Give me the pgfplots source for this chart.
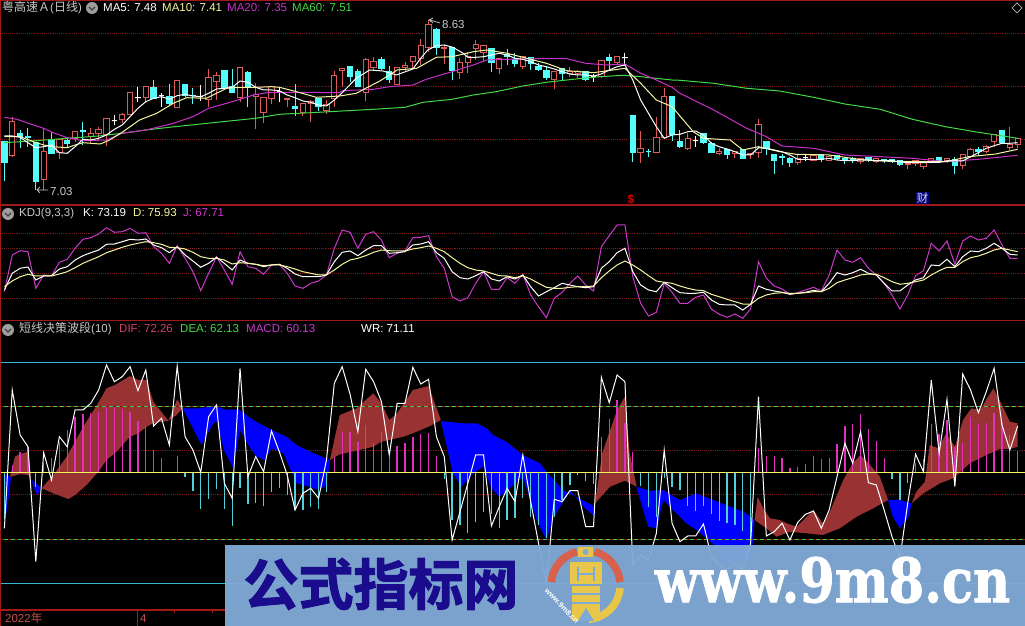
\documentclass[border=0pt]{standalone}
\usepackage{fontspec}
\usepackage{pgfplots}
\usepackage{pgfplotstable}
\pgfplotsset{compat=1.18}
\usepgfplotslibrary{statistics}
\setmainfont{Liberation Sans}
\newfontfamily\cjk{Noto Sans CJK SC}
\newfontfamily\wmcjk[FakeBold=2]{Noto Sans CJK SC Bold}
\newfontfamily\wmlat[FakeBold=1.5]{DejaVu Serif Bold}

\definecolor{frame}{HTML}{A01818}
\definecolor{griddot}{HTML}{7A1C1C}
\definecolor{upred}{HTML}{DC5A5A}
\definecolor{downcy}{HTML}{54FCFC}
\definecolor{ma10}{HTML}{F6F6A0}
\definecolor{ma20}{HTML}{C832C8}
\definecolor{ma60}{HTML}{44D844}
\definecolor{jline}{HTML}{CC38CC}
\definecolor{txtgray}{HTML}{C8C8C8}
\definecolor{band}{HTML}{993333}
\definecolor{histm}{HTML}{E030C0}
\definecolor{histc}{HTML}{50D0D8}
\definecolor{lvlcy}{HTML}{38B4D4}
\definecolor{lvlgr}{HTML}{44CC44}
\definecolor{lvlye}{HTML}{F4F460}
\definecolor{wmblue}{HTML}{7FA9D6}
\definecolor{wmtext}{HTML}{1A0C8C}
\definecolor{logored}{HTML}{D9604A}
\definecolor{logoyel}{HTML}{E8C64A}
\definecolor{diftxt}{HTML}{D04070}
\definecolor{datetxt}{HTML}{C85050}

% one candle: colour, fill, bar, high, top of body, bottom of body, low (pixel rows)
\newcommand{\candle}[7]{\addplot[#1, line width=1bp, forget plot, boxplot prepared={draw direction=y, draw position=#3, upper whisker=#4, upper quartile=#5, median=#5, lower quartile=#6, lower whisker=#7, box extend=0.68, whisker extend=0, every box/.style={fill=#2}}] coordinates {};}
\newcommand{\cU}[5]{\candle{upred}{black}{#1}{#2}{#3}{#4}{#5}}
\newcommand{\cD}[5]{\candle{downcy}{downcy}{#1}{#2}{#3}{#4}{#5}}
\newcommand{\cW}[5]{\candle{white}{white}{#1}{#2}{#3}{#4}{#5}}
\newcommand{\icon}[2]{\fill[gray!75] (#1,#2) circle (6); \draw[black!75, line width=1.2bp] (#1-3,#2-1) -- (#1,#2+2) -- (#1+3,#2-1);}

\pgfplotsset{panel/.style={scale only axis, width=1025bp, hide axis, clip=true, xmin=-0.56, xmax=129.93, anchor=south west}}

% KDJ, pixel rows of the middle panel
\pgfplotstableread{
i K D J
0 290 286.7 291.7
1 273.3 281 255
2 268.3 276.7 250.7
3 267 274.3 251.7
4 280 276 288.3
5 276 276 275
6 275.7 276 275.7
7 269 274 262.3
8 266.7 271.7 259.3
9 260 267.7 248.3
10 255.7 263.3 239.3
11 252.7 260 237.7
12 250 256.7 234
13 244.3 252.7 227.7
14 244 250 232.3
15 241.7 247.3 231.7
16 239.3 245 228.3
17 240 243.3 233.3
18 239 241.7 232.7
19 245 242.7 246.7
20 247.7 244.3 253.3
21 252.7 247.3 263.3
22 246.7 247.7 245.7
23 255 249 258.3
24 261 252.3 271.7
25 267.3 256.7 290.7
26 263.3 258.3 273.3
27 257.3 258.3 256.7
28 263.3 260 270
29 270 264 284.3
30 260 262.7 251.7
31 263.3 263.3 266.7
32 264.3 264.3 268.3
33 266.7 265.7 274.3
34 265 265 265
35 264.3 265 264.3
36 268.3 266.7 273.3
37 274 269 286
38 276.7 271.7 288.3
39 276.7 273.3 283.3
40 276.7 275 281
41 275 275 275
42 261.7 270 248.3
43 252.3 264.3 230
44 251 260 232.3
45 255.7 258.3 248.3
46 250 255.7 234.3
47 245.7 252.3 231.7
48 245.7 250 240
49 253.3 250.7 257.7
50 252.7 251 253.3
51 251.7 251 250.7
52 245 249 237.7
53 244 247.7 237.3
54 241.7 246 235.7
55 252.7 248.3 256.7
56 258.3 251.7 268.3
57 271.7 257.7 296.7
58 277.7 263.3 301
59 279 267.7 297.7
60 275.7 270 283.3
61 271.7 271 271.7
62 279 273.3 289.3
63 281 275.7 289.3
64 276.7 276 277.7
65 279 277.7 283.3
66 275 276 274.3
67 286.7 279 295
68 296 283.3 306.7
69 291.7 287.3 317.7
70 287.7 288.3 298.3
71 283.3 288.3 292.3
72 285 287.3 283.3
73 286.7 286.7 276
74 287.7 286.7 285
75 286.7 286 291
76 268.3 277.7 246.7
77 261.7 271 235.7
78 252.7 265 225
79 248.3 261 225
80 271.7 265 276.7
81 285 270 303.3
82 290 275.7 316
83 291.7 281 312.3
84 282.3 282.3 283.3
85 287.7 283.3 292.3
86 292.7 286 303.3
87 293.3 288.3 303.3
88 293.3 290 297.3
89 292.3 290.7 295
90 300 294.3 309
91 304.3 296.7 314.3
92 305 299.3 317.3
93 305 301.7 314
94 310 304 318.3
95 304.3 304.3 309
96 286 298.3 261.7
97 289.3 295 278.3
98 291 293.3 286
99 292.3 292.7 289
100 294.3 293.3 294.3
101 293.3 293.3 292.7
102 292.3 292.7 290
103 290.3 291.7 287.3
104 291.7 291.7 291
105 283.3 288.3 275
106 272.7 282.7 250
107 275 280 260
108 272.7 277.7 262.3
109 269.3 275 257.7
110 273.3 274 268.3
111 275 274.3 275
112 283.3 277.7 283.3
113 291 281.7 295
114 291 284.3 309
115 285 283.3 295
116 280 281.7 275.7
117 277.7 280 270.7
118 265 275 243.3
119 265.7 270.7 251
120 259.3 267.3 241
121 266.7 267.3 264.3
122 256.7 261.7 241
123 251 257.7 236
124 251.7 256 240
125 248.3 253.3 238.3
126 243.3 250 230
127 248.3 248.3 245
128 254.3 250 258.3
129 255 251.7 258.3
}\kdj

% bottom panel, pixels above the midline: WR
\pgfplotstableread{
i wr
0 -56
1 82.3
2 37.3
3 25.6
4 -89.4
5 19.6
6 -7.7
7 35.6
8 25.6
9 62.3
10 62.3
11 69
12 82.3
13 107.3
14 90.6
15 95.6
16 105.6
17 81.6
18 102.3
19 46.3
20 54
21 27.3
22 106.3
23 35.6
24 22.3
25 0
26 55.6
27 67.3
28 -11
29 -26
30 104
31 -4.4
32 15.6
33 0.6
34 41.3
35 20.6
36 -2.7
37 -37.7
38 -21
39 -16
40 -26
41 12.3
42 89
43 105.6
44 78.3
45 40.6
46 103
47 90.6
48 70.6
49 17.3
50 69
51 69
52 105
53 88.3
54 93
55 35.6
56 15.6
57 -67.7
58 -39.4
59 -11
60 17.3
61 17.3
62 -53.7
63 -34.4
64 -16
65 -29.4
66 17.3
67 -29.4
68 -71
69 -111
70 -27
71 -29.4
72 -18.4
73 -18.4
74 -54.4
75 -54.4
76 95
77 69.6
78 97.3
79 90.6
80 -92.7
81 -82.7
82 -87.7
83 -61
84 22.3
85 -51
86 -69.4
87 -63.7
88 -63.7
89 -51.7
90 -84.4
91 -92.7
92 -97.7
93 -91
94 -97.7
95 -71
96 75.6
97 -63.7
98 -59.4
99 -51
100 -67.7
101 -50
102 -42
103 -38.7
104 -56
105 -37.7
106 -4.4
107 29
108 8.9
109 40.6
110 -10.4
111 -12.7
112 -37.7
113 -64.4
114 -86
115 -31
116 18
117 0.6
118 92.3
119 19
120 73
121 -14.4
122 98.3
123 82.3
124 59.6
125 80.6
126 104
127 47.3
128 22.3
129 46.3
}\wrtab

\begin{document}
\begin{tikzpicture}
\path[use as bounding box] (0,0) rectangle (1025bp,626bp);
\fill[black] (0,0) rectangle (1025bp,626bp);

% price panel (y is the pixel row)
\begin{axis}[panel, at={(0bp,421bp)}, height=205bp, ymin=0, ymax=205, y dir=reverse]
\foreach \r in {33.3,86.3,139.7} {\edef\tmp{\noexpand\addplot[griddot, line width=0.9bp, densely dotted, forget plot] coordinates {(-1,\r)(130,\r)};}\tmp}
\cD{0}{142}{142}{163}{181}\cU{1}{117}{122}{156}{157}\cD{2}{130}{134}{137}{148}\cD{3}{128}{137}{138}{147}
\cD{4}{143}{143}{182}{190}\cU{5}{128}{152}{180}{190}\cD{6}{132}{140}{154}{154}\cU{7}{139}{140}{153}{159}
\cD{8}{137}{141}{144}{148}\cU{9}{132}{132}{139}{142}\cD{10}{122}{131}{132}{145}\cU{11}{128}{134}{137}{143}
\cU{12}{127}{130}{134}{140}\cU{13}{119}{119}{135}{146}\cW{14}{115}{121}{121}{125}\cU{15}{113}{115}{120}{123}
\cU{16}{93}{93}{115}{115}\cW{17}{87}{98}{98}{102}\cU{18}{86}{87}{98}{102}\cD{19}{80}{88}{99}{99}
\cW{20}{93}{96}{96}{107}\cD{21}{84}{97}{104}{105}\cU{22}{81}{81}{108}{108}\cD{23}{85}{85}{96}{97}
\cD{24}{88}{96}{96}{104}\cW{25}{85}{97}{97}{101}\cU{26}{69}{78}{100}{107}\cU{27}{72}{76}{82}{100}
\cD{28}{70}{71}{88}{88}\cD{29}{69}{87}{93}{93}\cU{30}{68}{68}{98}{102}\cD{31}{71}{73}{88}{107}
\cU{32}{83}{95}{97}{129}\cU{33}{98}{98}{113}{123}\cU{34}{87}{87}{99}{104}\cW{35}{88}{92}{92}{102}
\cU{36}{98}{99}{100}{107}\cD{37}{84}{107}{109}{116}\cU{38}{103}{104}{113}{116}\cU{39}{100}{102}{104}{122}
\cD{40}{98}{99}{107}{111}\cU{41}{100}{105}{111}{114}\cU{42}{71}{76}{99}{107}\cU{43}{69}{69}{71}{87}
\cD{44}{66}{67}{77}{82}\cD{45}{69}{72}{87}{87}\cU{46}{58}{60}{93}{101}\cU{47}{57}{62}{68}{70}
\cD{48}{57}{60}{69}{70}\cD{49}{66}{72}{80}{83}\cU{50}{67}{68}{85}{85}\cU{51}{62}{66}{68}{71}
\cU{52}{57}{57}{62}{68}\cU{53}{39}{46}{59}{65}\cU{54}{20}{25}{48}{52}\cD{55}{28}{30}{48}{55}
\cU{56}{45}{48}{49}{64}\cD{57}{48}{48}{71}{80}\cU{58}{58}{63}{73}{79}\cU{59}{52}{57}{63}{73}
\cU{60}{40}{45}{49}{60}\cU{61}{45}{46}{53}{62}\cD{62}{49}{49}{63}{72}\cU{63}{59}{59}{69}{74}
\cD{64}{49}{55}{57}{65}\cD{65}{53}{60}{64}{67}\cU{66}{56}{57}{67}{69}\cD{67}{57}{58}{64}{70}
\cD{68}{63}{67}{70}{71}\cD{69}{67}{71}{78}{80}\cU{70}{71}{72}{80}{89}\cD{71}{68}{69}{74}{80}
\cU{72}{67}{72}{74}{77}\cU{73}{70}{72}{74}{78}\cD{74}{71}{72}{80}{81}\cW{75}{74}{77}{77}{82}
\cU{76}{61}{61}{77}{78}\cD{77}{54}{58}{61}{69}\cU{78}{57}{57}{63}{64}\cW{79}{53}{58}{58}{65}
\cD{80}{116}{116}{153}{162}\cU{81}{131}{149}{153}{163}\cD{82}{149}{152}{152}{157}\cU{83}{117}{138}{153}{153}
\cU{84}{88}{97}{138}{138}\cD{85}{97}{97}{135}{141}\cD{86}{130}{142}{147}{148}\cU{87}{133}{139}{149}{150}
\cW{88}{136}{141}{141}{147}\cD{89}{134}{134}{143}{144}\cD{90}{142}{144}{153}{153}\cU{91}{148}{152}{154}{155}
\cD{92}{149}{150}{155}{159}\cU{93}{152}{152}{154}{158}\cD{94}{150}{150}{159}{159}\cU{95}{153}{154}{155}{159}
\cU{96}{119}{125}{153}{158}\cD{97}{141}{142}{149}{155}\cD{98}{154}{155}{161}{174}\cD{99}{154}{157}{158}{165}
\cD{100}{157}{159}{163}{167}\cU{101}{155}{159}{163}{165}\cW{102}{155}{158}{158}{161}\cU{103}{155}{156}{161}{161}
\cD{104}{154}{155}{160}{162}\cU{105}{155}{157}{161}{161}\cD{106}{155}{156}{159}{160}\cD{107}{157}{159}{160}{164}
\cD{108}{157}{159}{160}{163}\cU{109}{158}{159}{162}{164}\cD{110}{157}{158}{160}{162}\cU{111}{159}{159}{162}{163}
\cD{112}{159}{160}{161}{163}\cD{113}{159}{160}{162}{163}\cD{114}{160}{161}{165}{166}\cU{115}{163}{164}{165}{169}
\cU{116}{160}{161}{164}{166}\cU{117}{162}{163}{167}{169}\cU{118}{158}{159}{163}{163}\cD{119}{158}{158}{162}{163}
\cU{120}{159}{159}{161}{163}\cD{121}{157}{160}{166}{174}\cU{122}{155}{155}{166}{169}\cU{123}{148}{150}{157}{158}
\cD{124}{147}{150}{152}{155}\cU{125}{145}{147}{152}{153}\cU{126}{135}{135}{142}{147}\cD{127}{131}{131}{143}{144}
\cU{128}{127}{145}{148}{150}\cU{129}{138}{139}{145}{148}
% MA60
\addplot[ma60, line width=1bp] coordinates {(0,142.7)(4,140.7)(8,138.3)(12,136)(15,133.3)(18,130)(21,127.3)(25,124)(29,120.7)(32,118.3)(35,114.3)(40,112.3)(43,111)(47,109.3)(51,107.3)(53.3,102.3)(57,99.3)(59.7,95)(62.6,91.7)(66,86)(69,82.3)(72.4,79.3)(75.8,76.7)(78.8,75.3)(81,76.7)(85,80)(86,80.3)(90.3,83.3)(94.5,88.3)(98.7,91)(103,97.3)(107,104)(111.5,109.3)(115.6,119.3)(119.8,126.7)(124,132.3)(129,138.3)};
% MA20
\addplot[ma20, line width=1bp] coordinates {(0,117.3)(1.6,119.3)(3.7,125)(5,128.3)(6.2,132.7)(8,137.7)(10,140.7)(13,140)(15,133.3)(18,130)(19.8,126.7)(21.5,123.3)(24,116.7)(26,108.3)(28.3,103.3)(30,99.3)(31.7,95)(33.4,92.7)(37.6,92.3)(42.7,92.7)(43,90.7)(47,89.3)(49,86.7)(52,85)(53.7,79.3)(57,71.7)(59.7,65)(61.4,60)(64,59.3)(68,58.7)(71.6,58.7)(74,63.3)(76.6,65)(79,64)(81,73.3)(83,80)(85,87.3)(86,93.3)(90.3,110)(94.5,128.3)(97,136.7)(99,146)(103,148.3)(107,155)(111.5,156.7)(115.6,158.3)(119.8,161.7)(124,159.3)(129,155.3)};
% MA10
\addplot[ma10, line width=1bp] coordinates {(0,136.7)(2,136.7)(3.7,141.7)(5,145)(6.2,146.7)(8,147.7)(9,145)(10,142.7)(12.2,144)(13.4,140)(15.1,131.7)(17.2,120)(19.4,113.3)(21.5,103.3)(23.2,97.7)(25.7,98.3)(28.3,88.3)(30,87.3)(32,87.3)(34,86.7)(35,87.3)(37.2,91.7)(39.7,97.3)(42.7,96)(44.8,93.3)(46,88.3)(47.8,81)(50,70)(52.5,68.3)(55,57.3)(57,56.7)(59.7,51.7)(61.4,50)(64,53.3)(66.5,58.3)(69,63.3)(71.6,70.7)(75,72.7)(79,68.3)(81,83.3)(83,100)(85,106.7)(86,116)(87.7,131.7)(89,138.3)(92.4,140)(94,150)(96,146.7)(98.7,151.7)(100.8,154.3)(105,155)(109.3,160)(113.5,161.7)(115.6,161.7)(119.8,161.7)(122.8,156.7)(126.2,154)(129,149.3)};
% MA5
\addplot[white, line width=1bp] coordinates {(0,136)(1,136)(2,137.3)(3,142.7)(4,147.7)(5,146.7)(6,145)(7,152.7)(8,153.3)(9,146.7)(10,139.3)(11,140)(12,138.3)(13,135)(14,129.3)(15,125)(16,116.7)(17,108.3)(18,101.7)(19,98.3)(20,96.7)(21,99.3)(22,95.7)(23,94.3)(24,96)(25,96.7)(26,93.3)(27,89)(28,88.3)(29,87.3)(30,81)(31,82.3)(32,87.3)(33,90)(34,90)(35,90.7)(36,95)(37,97.7)(38,101)(39,102.3)(40,105)(41,106)(42,100)(42.8,94.3)(44.8,78.3)(46.5,70)(48.2,71)(49.9,75)(52,69)(53,58.3)(53.9,50)(55,45.7)(56,45)(57.1,47.3)(58.4,53.3)(59,57.3)(60,57.3)(61,56.7)(62,55)(63,53.3)(64,55)(65,58.3)(66,59.3)(67,61.7)(68,65)(69,66.7)(70,69)(71,71.7)(72,74)(73,75)(74,75)(75,76)(76,74)(77,70)(78,66.7)(79,65)(80,80)(81,100)(83,126.7)(84,138.3)(85,135)(86,134.3)(87,131.7)(88,131)(89,135)(90,143.3)(91,146.7)(92,149)(93,151.7)(94,155)(95,155)(96,147.7)(97,148.3)(98,150)(99,151.7)(100,155)(101,159.3)(102,159.3)(103,159.3)(104,159.3)(105,158.3)(106,160)(107,160.7)(108,160.7)(109,160)(110,160)(111,160.7)(112,160.7)(113,160.7)(114,161.7)(115,162.7)(116,162.3)(117,162.7)(118,162.3)(119,162.3)(120,161)(121,160.7)(122,161)(123,156.7)(124,152.7)(125,148.3)(126,145.7)(127,143.3)(128,143.3)(129,142.7)};
\end{axis}

% KDJ panel
\begin{axis}[panel, at={(0bp,306bp)}, height=115bp, ymin=205, ymax=320, y dir=reverse]
\foreach \r in {233,248,273,298} {\edef\tmp{\noexpand\addplot[griddot, line width=0.9bp, densely dotted, forget plot] coordinates {(-1,\r)(130,\r)};}\tmp}
\addplot[jline, line width=1bp] table[x=i, y=J] {\kdj};
\addplot[white, line width=1bp] table[x=i, y=K] {\kdj};
\addplot[ma10, line width=1bp] table[x=i, y=D] {\kdj};
\end{axis}

% decision-band panel (y is pixels above the midline, row 472.3)
\begin{axis}[panel, at={(0bp,16bp)}, height=290bp, ymin=-137.7, ymax=152.3]
\foreach \r in {22,-21.7} {\edef\tmp{\noexpand\addplot[griddot, line width=0.9bp, densely dotted, forget plot] coordinates {(-1,\r)(130,\r)};}\tmp}
\addplot[fill=blue, draw=none] coordinates {(0,-1.7)(0.84,-5)(0.63,-21)(0.12,-46)} -- cycle;
\addplot[fill=band, draw=none] coordinates {(0.71,-4.4)(1.35,15.6)(1.99,18.3)(3.05,20.6)(3.34,-7.7)(3.05,-2.7)(1.99,-1.7)(0.84,-4.4)} -- cycle;
\addplot[fill=blue, draw=none] coordinates {(3.47,-7.7)(4.62,-15)(4.19,-23.4)(3.68,-14.4)} -- cycle;
\addplot[fill=band, draw=none] coordinates {(4.74,-16)(6.23,-2.7)(7.93,15.6)(10.05,45.6)(12.17,72.3)(13,84)(14.08,87.3)(15.14,92.3)(15.98,96.3)(17.05,92.3)(18.1,92.3)(18.96,70.6)(20.87,51.6)(22,73)(22.69,64)(21.93,57.3)(20.87,51.6)(18.96,49)(18.1,45.6)(17.05,39)(15.98,35.6)(14.29,20.6)(13,12.3)(11.96,0.6)(10.47,-12.7)(8.99,-22.7)(8.14,-26.7)(6.23,-21)} -- cycle;
\addplot[fill=blue, draw=none] coordinates {(22.69,64)(24.9,64)(26.8,66.6)(28.29,62.3)(29.78,63)(31.68,52.3)(34,42.3)(35.93,35.6)(37.2,27.3)(38.9,20.6)(41.44,12.3)(41.23,-1)(40.8,-14.4)(39.75,-17)(38.05,-12.7)(37.2,-11)(35.5,19)(34,24)(33.16,12.3)(32.1,15.6)(31.05,27.3)(29.99,42.3)(29.14,4)(27.95,22.3)(27,50.6)(26.6,49)(25.1,27.3)} -- cycle;
\addplot[fill=band, draw=none] coordinates {(41.44,12.3)(42.7,57.3)(44.84,64)(46.96,79)(48,69)(49,52.3)(50,59)(52,82.3)(54,86.3)(55.57,52.3)(54.2,46.3)(52,39)(50.8,35.6)(48,30.6)(46.96,25.6)(44.84,21.6)(42.7,18)} -- cycle;
\addplot[fill=blue, draw=none] coordinates {(55.57,51.3)(58.4,49)(60.1,49)(61.4,44)(62.2,37.3)(63.9,30.6)(66,17.3)(68.2,9)(69,0.6)(71.1,-17.7)(75.2,-34.4)(75.2,-44.4)(73.9,-36)(72,-17.7)(69.9,-46)(69,-67.7)(67.75,-47.7)(66,-4.4)(64.3,-16)(63,-24.4)(62,-16)(60.96,5.6)(59.7,-1)(58.2,-14.4)(57.1,-1)} -- cycle;
\addplot[fill=band, draw=none] coordinates {(75.2,-31)(76.1,19)(78,62.3)(79,75.6)(79.6,19)(80.5,-14.4)(79,-8.4)(77.1,-14.4)} -- cycle;
\addplot[fill=blue, draw=none] coordinates {(80.5,-14.4)(82.2,-18.4)(83.9,-17.7)(86,-27.7)(88.1,-21)(90.2,-27.7)(92.4,-34.4)(94.1,-39.4)(95.5,-47.7)(95.1,-87.7)(92,-91)(90.2,-71.7)(88.1,-57.7)(86.8,-51)(86,-44.4)(85.1,-37.7)(83.9,-27.7)(83,-56)(81.96,-54.4)(80.5,-16)} -- cycle;
\addplot[fill=band, draw=none] coordinates {(95.5,-47.7)(95.9,-24.4)(96.6,-36)(97.45,-46)(98.7,-47.7)(99.6,-51)(100.85,-54.4)(103,-37.7)(104.2,-51)(105,-41)(105.9,-24.4)(106.8,-7.7)(108,9)(109,17.3)(110.2,7.3)(111.45,-4.4)(112.5,-27.7)(110.6,-36)(108.5,-44.4)(106.35,-56)(104.2,-62.7)(102.1,-61)(100,-59.4)(98.3,-64.4)(97,-56)} -- cycle;
\addplot[fill=blue, draw=none] coordinates {(112.5,-27.7)(114,-27.7)(115.5,-31)(115.1,-44.4)(114,-56)(113.1,-44.4)} -- cycle;
\addplot[fill=band, draw=none] coordinates {(115.5,-31)(116.1,-19.4)(117.2,-9.4)(117.8,27.3)(118.9,24)(119.9,39)(121,25.6)(122.05,52.3)(123.1,64)(124.2,62.3)(125.9,84)(126.9,69)(128,50.6)(129,49)(129,25.6)(128,23.3)(126.7,23.3)(125,17.3)(122.9,9)(120.8,-6)(119.1,-11)(117,-21)} -- cycle;
% histogram, positive and negative bars
\addplot[ycomb, histm, line width=1.3bp, no markers] coordinates {(1,7.3)(2,20)(3,25.6)(5,9)(6,14)(7,30.6)(8,42.3)(9,55.6)(10,58.3)(11,59)(12,60.6)(13,65)(14,65)(15,63)(16,60.6)(17,51.3)(18,46.3)(19,22.3)(20,14)(22,16.3)(42,15.6)(43,40.6)(44,40.6)(45,30.6)(46,47.3)(47,29)(48,40.6)(49,15.6)(50,26.3)(51,29)(52,35.6)(53,38.3)(54,39.6)(55,16.3)(76,35.6)(77,53.3)(78,72.3)(79,49)(80,20.6)(96,24)(97,16.6)(98,16.6)(99,14)(100,4.6)(101,5.6)(102,8.3)(103,16.6)(104,13)(105,14.6)(106,28.3)(107,46.3)(108,48.3)(109,58.3)(110,43.3)(111,31.6)(112,14.6)(116,9.6)(117,13)(118,48.3)(119,38.3)(120,52.3)(121,25.6)(122,29)(123,55.6)(124,48.3)(125,49)(126,59.6)(127,49)(128,37.3)(129,21.6)};
\addplot[ycomb, histc, line width=1.3bp, no markers] coordinates {(0,-47)(4,-14.4)(21,-1)(23,-4.4)(24,-18.7)(25,-36.7)(26,-26.7)(27,-17)(28,-36.7)(29,-53.7)(30,-16)(31,-31.7)(32,-30.4)(33,-33.7)(34,-19.4)(35,-16)(36,-22.7)(37,-37.7)(38,-37.7)(39,-34.4)(40,-36.7)(41,-19.4)(56,-7)(57,-47.7)(58,-52.7)(59,-61)(60,-50)(61,-39.4)(62,-41.7)(63,-56)(64,-47.7)(65,-46)(66,-26)(67,-44.4)(68,-52.7)(69,-66)(70,-44.4)(71,-27.7)(72,-12.7)(73,-2.7)(74,-8.7)(75,-11.7)(81,-13.4)(82,-34.4)(83,-44.4)(84,-6)(85,-14.4)(86,-17.7)(87,-33.7)(88,-38.7)(89,-33.7)(90,-41.7)(91,-48.7)(92,-51)(93,-52.7)(94,-58.4)(95,-67.7)(113,-7)(114,-27.7)(115,-11)};
\addplot[lvlcy, line width=1bp] coordinates {(-1,109.6)(130,109.6)};
\addplot[lvlcy, line width=1bp] coordinates {(-1,-111)(130,-111)};
\addplot[griddot, line width=1bp] coordinates {(-1,66)(130,66)};
\addplot[griddot, line width=1bp] coordinates {(-1,-67)(130,-67)};
\addplot[lvlgr, line width=1bp, dash pattern=on 4bp off 3bp] coordinates {(-1,66)(130,66)};
\addplot[lvlgr, line width=1bp, dash pattern=on 4bp off 3bp] coordinates {(-1,-67)(130,-67)};
\addplot[lvlye, line width=1.1bp] coordinates {(-1,0)(130,0)};
\addplot[white, line width=1bp] table[x=i, y=wr] {\wrtab};
\end{axis}

% frame, titles and watermark, in image pixels
\begin{scope}[shift={(0,626bp)}, x=1bp, y=-1bp, every node/.style={inner sep=0, font=\fontsize{11.5bp}{12bp}\selectfont}]
\draw[frame, line width=1.4bp] (0,0.5) -- (1025,0.5);
\draw[frame, line width=1.4bp] (0.5,0) -- (0.5,626);
\draw[frame, line width=1.2bp] (0,205) -- (1025,205);
\draw[frame, line width=1.2bp] (0,320.5) -- (1025,320.5);
\draw[frame, line width=1.2bp] (0,610) -- (1025,610);
\draw[frame, line width=1bp] (137.5,610) -- (137.5,626);
\draw[frame, line width=1bp] (174.5,610) -- (174.5,613);
\draw[frame, line width=1bp] (212.5,610) -- (212.5,613);

\node[anchor=base west, txtgray] at (2,12) {{\fontsize{12bp}{12bp}\cjk 粤高速Ａ}({\fontsize{12bp}{12bp}\cjk 日线})};
\icon{92}{8}
\node[anchor=base west, white] at (103,12) {MA5: 7.48};
\node[anchor=base west, ma10] at (162,12) {MA10: 7.41};
\node[anchor=base west, ma20] at (227,12) {MA20: 7.35};
\node[anchor=base west, ma60] at (292,12) {MA60: 7.51};

\node[anchor=base west, txtgray] at (442,29) {8.63};
\draw[txtgray, line width=0.7bp] (440,23) -- (430,20) (433,18) -- (429,20) -- (433,23);
\node[anchor=base west, txtgray] at (50,196) {7.03};
\draw[txtgray, line width=0.7bp] (48,190) -- (37,190) (40,187) -- (37,190) -- (40,193);
\node[anchor=center, red!85!black, font=\bfseries\fontsize{12bp}{12bp}\selectfont] at (631,199) {\$};
\node[anchor=center, fill=blue!45!black, text=white!85!blue, inner sep=1bp] at (922.5,198) {\cjk 财};
\draw[gray!60, line width=0.7bp] (1017,3) -- (1022,8) -- (1017,13) -- (1012,8) -- cycle;

\icon{8}{214}
\node[anchor=base west, txtgray] at (19,217) {KDJ(9,3,3)};
\node[anchor=base west, white] at (83,217) {K: 73.19};
\node[anchor=base west, ma10] at (133,217) {D: 75.93};
\node[anchor=base west, jline] at (183,217) {J: 67.71};

\icon{8}{330}
\node[anchor=base west, txtgray] at (19,333) {{\fontsize{12bp}{12bp}\cjk 短线决策波段}(10)};
\node[anchor=base west, diftxt] at (119,333) {DIF: 72.26};
\node[anchor=base west, ma60] at (180,333) {DEA: 62.13};
\node[anchor=base west, jline] at (246,333) {MACD: 60.13};
\node[anchor=base west, white] at (361,333) {WR: 71.11};

\node[anchor=base west, datetxt] at (5,623) {2022{\cjk 年}};
\node[anchor=base west, datetxt] at (140,623) {4};

\fill[wmblue, fill opacity=0.96] (225,545) rectangle (1025,626);
\node[anchor=center, wmtext, font=\wmcjk\fontsize{55bp}{55bp}\selectfont] at (381,584) {公式指标网};
\node[anchor=center, white, yscale=1.2, font=\wmlat\fontsize{51bp}{51bp}\selectfont] at (832.5,580) {www.9m8.cn};

% logo
\draw[logored, line width=7.5bp] ([shift=(-175:34.5)]585.7,585) arc[start angle=-175, end angle=-105, radius=34.5];
\draw[logored, line width=7.5bp] ([shift=(-75:34.5)]585.7,585) arc[start angle=-75, end angle=-5, radius=34.5];
\draw[logoyel, line width=7.5bp] ([shift=(5:34.5)]585.7,585) arc[start angle=5, end angle=85, radius=34.5];
\fill[logoyel] (578.3,547.3) rectangle (593.3,557.3);
\fill[wmblue] (585.7,552) circle (3);
\fill[logoyel] (570,562) rectangle (602,584);
\fill[logoyel] (572,586) rectangle (600,621);
\draw[wmblue, line width=1.4bp] (578,567) -- (578,581) (594,567) -- (594,581) (578,574) -- (594,574);
\draw[wmblue, line width=2bp] (572,594) -- (600,594) (572,603) -- (600,603);
\fill[wmblue] (586,608) -- (578,621) -- (594,621) -- cycle;
\node[anchor=center, white, rotate=-46, font=\fontsize{7.5bp}{8bp}\selectfont\bfseries] at (562,606) {www.9m8.cn};
\end{scope}
\end{tikzpicture}
\end{document}
